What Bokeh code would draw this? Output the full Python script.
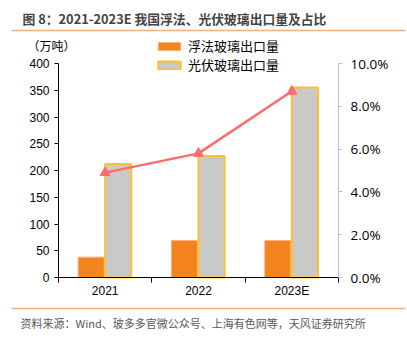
import numpy as np
from bokeh.plotting import figure
from bokeh.models import (Range1d, LinearAxis, FixedTicker, NumeralTickFormatter, Label,
                          BoxAnnotation, Legend, LegendItem, ColumnDataSource)
from bokeh.embed import file_html
from bokeh.resources import INLINE

years = ["2021", "2022", "2023E"]
float_glass = [38, 69, 69]          # 浮法玻璃出口量 (万吨)
pv_glass = [212, 227, 355]          # 光伏玻璃出口量 (万吨)
share = [0.049, 0.058, 0.087]       # 占比
left_ticks = [0, 50, 100, 150, 200, 250, 300, 350, 400]
right_ticks = [0.0, 0.02, 0.04, 0.06, 0.08, 0.10]

CJK = "Noto Sans CJK SC"
LAT = "Liberation Sans"

W, H = 407, 345
# pixel geometry of the plotting area inside the canvas
PX_L, PX_R, PX_T, PX_B = 58, 338, 63, 277
n = len(years)
ux = (PX_R - PX_L) / n
uy = (PX_B - PX_T) / 400.0
up = (PX_B - PX_T) / 0.10

centers = np.arange(n) + 0.5
src = ColumnDataSource(dict(x=centers, xf=centers - 0.15, xp=centers + 0.14,
                            fg=float_glass, pv=pv_glass, sh=share))

p = figure(width=W, height=H, output_backend="svg", toolbar_location=None,
           x_range=Range1d(-PX_L / ux, n + (W - PX_R) / ux),
           y_range=Range1d(-(H - PX_B) / uy, 400 + PX_T / uy),
           min_border=0, min_border_left=0, min_border_right=0,
           min_border_top=0, min_border_bottom=0)
p.extra_y_ranges = {"pct": Range1d(-(H - PX_B) / up, 0.10 + PX_T / up)}
p.outline_line_color = None
p.xgrid.visible = False
p.ygrid.visible = False
p.background_fill_color = "white"
p.border_fill_color = "white"

r_fg = p.vbar(x="xf", top="fg", width=0.28, source=src, fill_color="#F4841F",
              line_color="#F9B47A", line_width=1)
r_pv = p.vbar(x="xp", top="pv", width=0.28, source=src, fill_color="#C9C9C9",
              line_color="#FFC02E", line_width=2)
p.line(x="x", y="sh", source=src, y_range_name="pct", line_color="#FF6B6B", line_width=2.5)
p.scatter(x="x", y="sh", source=src, y_range_name="pct", marker="triangle", size=10,
          fill_color="#FF6B6B", line_color="#FF6B6B")

# x axis
xa = p.xaxis[0]
xa.fixed_location = 0
xa.bounds = (0, n)
xa.ticker = FixedTicker(ticks=list(centers), minor_ticks=list(np.arange(n + 1)))
xa.major_label_overrides = {float(c): y for c, y in zip(centers, years)}
xa.major_tick_line_color = None
xa.major_tick_out = 0
xa.major_tick_in = 0
xa.minor_tick_line_color = "#000000"
xa.minor_tick_out = 5
xa.minor_tick_in = 0
xa.axis_line_color = "#000000"
xa.major_label_text_font = LAT
xa.major_label_text_font_size = "12px"
xa.major_label_text_color = "#000000"
xa.major_label_standoff = 1

# left axis
ya = p.yaxis[0]
ya.fixed_location = 0
ya.bounds = (0, 400)
ya.ticker = FixedTicker(ticks=left_ticks)
ya.axis_line_color = "#000000"
ya.major_tick_line_color = "#000000"
ya.major_tick_out = 4
ya.major_tick_in = 0
ya.minor_tick_line_color = None
ya.major_label_text_font = LAT
ya.major_label_text_font_size = "12px"
ya.major_label_text_color = "#000000"
ya.major_label_standoff = 5

# right axis
ra = LinearAxis(y_range_name="pct", ticker=FixedTicker(ticks=right_ticks),
                formatter=NumeralTickFormatter(format="0.0%"))
ra.fixed_location = n
ra.bounds = (0, 0.10)
ra.axis_line_color = "#BFBFBF"
ra.major_tick_line_color = "#BFBFBF"
ra.major_tick_out = 4
ra.major_tick_in = 0
ra.minor_tick_line_color = None
ra.major_label_text_font = "Open Sans"
ra.major_label_text_font_size = "13.5px"
ra.major_label_text_color = "#000000"
ra.major_label_standoff = 8
p.add_layout(ra, "right")

legend = Legend(items=[LegendItem(label="浮法玻璃出口量", renderers=[r_fg]),
                       LegendItem(label="光伏玻璃出口量", renderers=[r_pv])],
                location=(155, H - 74), orientation="vertical",
                background_fill_alpha=0, border_line_color=None,
                padding=0, spacing=0, margin=0,
                glyph_width=28, glyph_height=10, label_height=17,
                label_standoff=5,
                label_text_font=CJK, label_text_font_size="13px", label_text_color="#000000")
p.add_layout(legend, "center")

# texts (screen units: x from left, y up from bottom)
def lab(txt, x, y_top, size, color, font=CJK, style="normal"):
    p.add_layout(Label(x=x, y=H - y_top, x_units="screen", y_units="screen", text=txt,
                       text_font=font, text_font_size=size, text_color=color,
                       text_font_style=style, text_baseline="middle", text_align="left"))

lab("图 8：2021-2023E 我国浮法、光伏玻璃出口量及占比", 22, 18, "12.8px", "#444444", style="bold")
lab("（万吨）", 27, 45, "12px", "#000000")
lab("资料来源：Wind、玻多多官微公众号、上海有色网等，天风证券研究所", 20, 322, "11px", "#595959")

def hline(y_top):
    p.add_layout(BoxAnnotation(left=11, right=405, bottom=H - y_top - 0.75, top=H - y_top + 0.75,
                               left_units="screen", right_units="screen",
                               bottom_units="screen", top_units="screen",
                               fill_color="#F7B07A", fill_alpha=1, line_color=None))

hline(30)
hline(308)

open("out.html", "w").write(file_html(p, INLINE))
